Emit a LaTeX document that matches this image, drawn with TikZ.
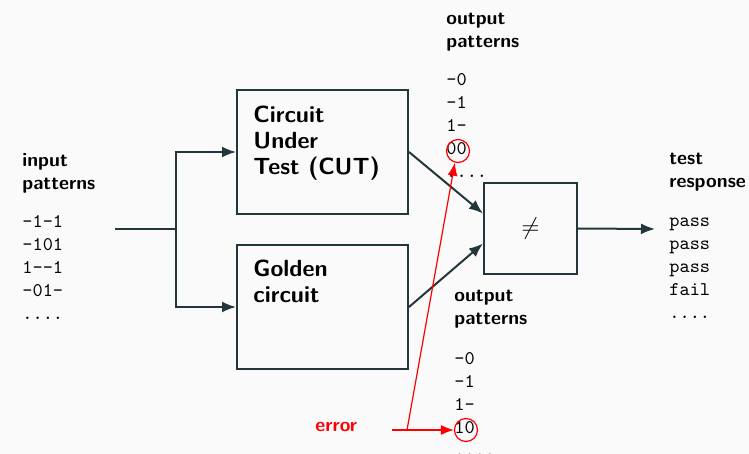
\documentclass[tikz,border=0pt]{standalone}
\usepackage{xcolor}
\usetikzlibrary{arrows.meta,positioning,calc}
\definecolor{darkteal}{HTML}{23373B}
\definecolor{slidebg}{HTML}{FAFAFA}

\begin{document}
\begin{tikzpicture}[
    x=0.5pt, y=-0.5pt,
    font=\sffamily,
    >=Latex,
    blockbox/.style={draw=darkteal, line width=1pt, fill=slidebg, minimum width=85.5pt, minimum height=62pt, inner sep=0pt},
    blocktext/.style={font=\sffamily\bfseries\fontsize{11.7}{13}\selectfont, align=left, anchor=base west, inner sep=0pt},
    heading/.style={font=\sffamily\bfseries\fontsize{9.7}{11.5}\selectfont, align=left, anchor=base west, inner sep=0pt},
    patterns/.style={font=\ttfamily\fontsize{9.7}{11.5}\selectfont, align=left, anchor=base west, inner sep=0pt},
    wire/.style={line width=1pt, draw=darkteal},
    arrow/.style={-{Latex[length=7pt, width=5.5pt]}, line width=1pt, draw=darkteal},
    errmark/.style={circle, draw=red, line width=0.6pt, minimum size=11.5pt, inner sep=0pt},
    errarrow/.style={-{Latex[length=6.5pt, width=5pt]}, line width=0.6pt, draw=red}
]
\fill[slidebg] (0,0) rectangle (749,454);
\useasboundingbox (0,0) rectangle (749,454);
% pattern columns (base = last line)
\node[heading] (inhead) at (22,190) {input\\patterns};
\node[patterns] (inlist) at (22,319) {-1-1\\-101\\1--1\\-01-\\....};
\node[heading] (cuthead) at (446,48) {output\\patterns};
\node[patterns] (cutlist) at (446,178) {-0\\-1\\1-\\00\\....};
\node[heading] (goldhead) at (454,324) {output\\patterns};
\node[patterns] (goldlist) at (454,456) {-0\\-1\\1-\\10\\....};
\node[heading] (resphead) at (669,188) {test\\response};
\node[patterns] (resplist) at (669,318) {pass\\pass\\pass\\fail\\....};
% blocks
\node[blockbox] (cut) at (322.5,152) {};
\node[blocktext] (cuttext) at (253,175) {Circuit\\Under\\Test (CUT)};
\node[blockbox] (golden) at (322.5,307) {};
\node[blocktext] (goldtext) at (253,302) {Golden\\circuit};
\node[blockbox, minimum width=46.5pt, minimum height=45.5pt, font=\large] (cmp) at (530.5,228.5) {$\neq$};
% connections
\coordinate (src) at (115,229);
\coordinate (split) at (176,229);
\coordinate (resp) at (655,229);
\draw[wire] (src) -- (split);
\draw[arrow] (split) |- (cut.west);
\draw[arrow] (split) |- (golden.west);
\draw[arrow] (cut.east) -- ($(cmp.west)+(0,-15)$);
\draw[arrow] (golden.east) -- ($(cmp.west)+(0,15)$);
\draw[arrow] (cmp.east) -- (resp);
% error marking
\node[errmark] (mark00) at (458,151) {};
\node[errmark] (mark10) at (466,430) {};
\node[heading, text=red] (err) at (315,431) {error};
\coordinate (errstart) at (392,430);
\coordinate (errsplit) at (407,430);
\draw[errarrow] (errstart) -- (mark10.west);
\draw[errarrow] (errsplit) -- (mark00.-105);
\end{tikzpicture}
\end{document}
